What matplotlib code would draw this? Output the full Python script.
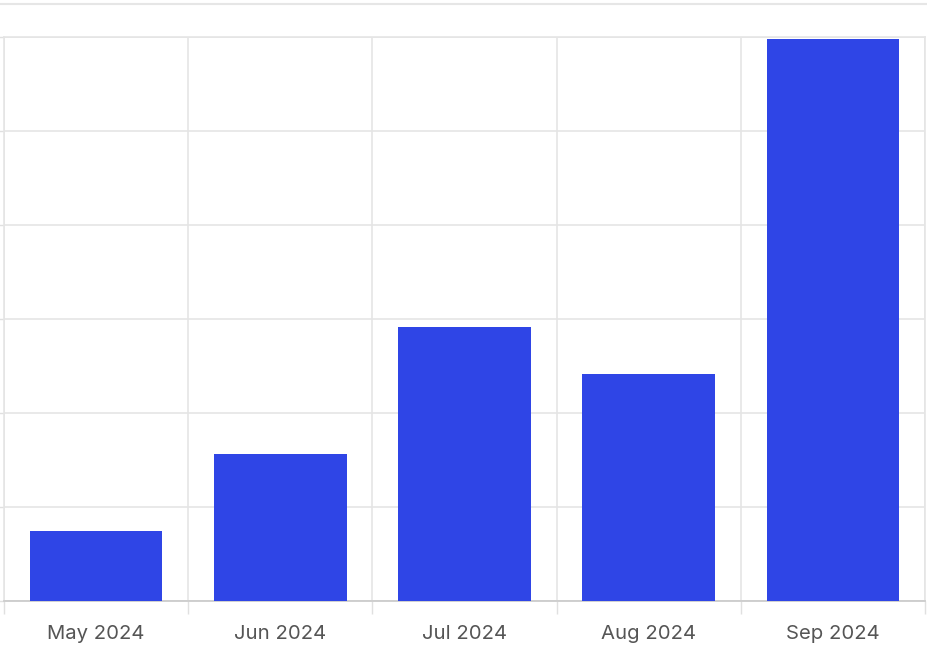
import matplotlib.pyplot as plt
import numpy as np
from matplotlib.lines import Line2D

months = ['May 2024', 'Jun 2024', 'Jul 2024', 'Aug 2024', 'Sep 2024']
values = [7.4, 15.6, 29.1, 24.1, 59.8]
y_ticks = [0, 10, 20, 30, 40, 50, 60]


def main():
    plt.rcParams['font.family'] = ['Inter', 'DejaVu Sans']
    fig = plt.figure(figsize=(9.28, 6.49), dpi=100)
    W, H = 928, 649
    ax = fig.add_axes([4 / W, 1 - 601 / H, (925 - 4) / W, (601 - 37) / H])

    x = np.arange(len(months))
    ax.bar(x, values, width=0.72, color='#2f45e6', zorder=3)

    ax.set_xlim(-0.5, len(months) - 0.5)
    ax.set_ylim(0, 60)
    ax.set_yticks(y_ticks)
    ax.set_yticklabels([])
    ax.set_xticks(x)
    ax.set_xticklabels(months, fontsize=14.6, color='#555555')
    ax.set_xticks(np.arange(-0.5, len(months), 1), minor=True)

    ax.grid(axis='y', which='major', color='#e5e5e5', linewidth=1.2, zorder=0)
    ax.grid(axis='x', which='minor', color='#e5e5e5', linewidth=1.2, zorder=0)
    ax.tick_params(axis='x', which='major', length=0, pad=17.5)
    ax.tick_params(axis='x', which='minor', length=9, color='#e0e0e0', width=1.0)
    ax.tick_params(axis='y', length=4, color='#e0e0e0', width=1.0)

    for side in ['top', 'right', 'left']:
        ax.spines[side].set_color('#e5e5e5')
        ax.spines[side].set_linewidth(1.2)
    ax.spines['bottom'].set_color('#cccccc')
    ax.spines['bottom'].set_linewidth(1.3)

    fig.add_artist(Line2D([0, 1], [1 - 4 / H, 1 - 4 / H], color='#e6e6e6',
                          linewidth=1.5, transform=fig.transFigure))

    fig.savefig('out.png', dpi=100)


if __name__ == '__main__':
    main()
